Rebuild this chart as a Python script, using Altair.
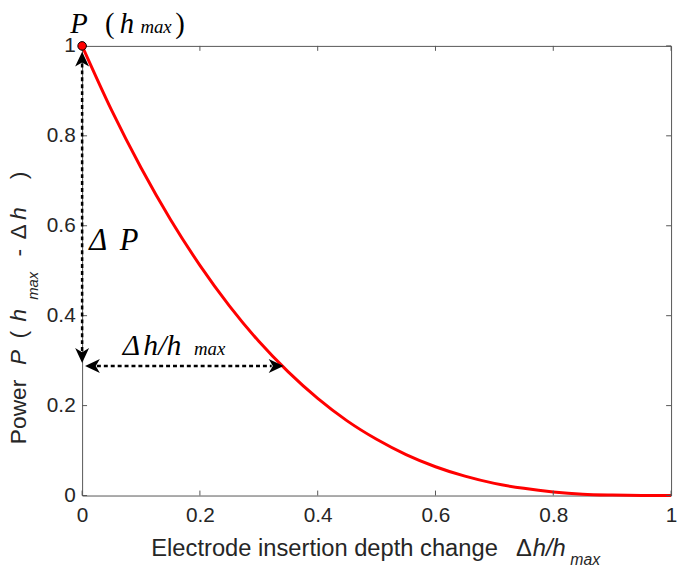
import altair as alt
import pandas as pd

# ---------------- data ----------------
depth_change = [0.0, 0.05, 0.10, 0.15, 0.20, 0.25, 0.30, 0.35, 0.40, 0.45, 0.50,
                0.55, 0.60, 0.65, 0.70, 0.75, 0.80, 0.85, 0.90, 0.95, 1.0]
power = [1.0, 0.857, 0.729, 0.614, 0.512, 0.422, 0.343, 0.275, 0.216, 0.166, 0.125,
         0.091, 0.064, 0.043, 0.027, 0.016, 0.008, 0.003, 0.001, 0.0001, 0.0]

x_ticks = [0, 0.2, 0.4, 0.6, 0.8, 1.0]
y_ticks = [0, 0.2, 0.4, 0.6, 0.8, 1.0]

peak_x = [0.0]
peak_y = [1.0]

# delta-P arrow (vertical) and delta-h arrow (horizontal)
dp_x = 0.0
dp_low = 0.295
dp_high = 0.987
dh_y = 0.288
dh_low = 0.005
dh_high = 0.342

SERIF = "Liberation Serif"
SANS = "Liberation Sans"
AXC = "#262626"

xs = alt.Scale(domain=[0, 1], nice=False, zero=False)
ys = alt.Scale(domain=[0, 1], nice=False, zero=False)

x_axis = alt.Axis(values=x_ticks, format="~g", labelFont=SANS, labelFontSize=21,
                  labelColor=AXC, ticks=False, tickSize=0, domain=False, grid=False,
                  labelPadding=9, title=None, labelFlush=False, labelOverlap=False)
y_axis = alt.Axis(values=y_ticks, format="~g", labelFont=SANS, labelFontSize=21,
                  labelColor=AXC, ticks=False, tickSize=0, domain=False, grid=False,
                  labelPadding=7, title=None, labelOverlap=False)


def X(field="x"):
    return alt.X(f"{field}:Q", scale=xs, axis=x_axis, title=None)


def Y(field="y"):
    return alt.Y(f"{field}:Q", scale=ys, axis=y_axis, title=None)


curve_df = pd.DataFrame({"x": depth_change, "y": power})

curve = alt.Chart(curve_df).mark_line(color="#ff0000", strokeWidth=3,
                                      interpolate="monotone").encode(
    x=X("x"), y=Y("y"))

# inward ticks (MATLAB style)
TLX = 5 / 596
TLY = 5 / 455
TC = "#555"
tick_layers = []
bx = pd.DataFrame({"x": x_ticks, "lo": [0.0] * 6, "hi": [TLY] * 6,
                   "tlo": [1.0] * 6, "thi": [1 - TLY] * 6})
tick_layers.append(alt.Chart(bx).mark_rule(color=TC, strokeWidth=1).encode(
    x=X("x"), y=Y("lo"), y2="hi:Q"))
tick_layers.append(alt.Chart(bx).mark_rule(color=TC, strokeWidth=1).encode(
    x=X("x"), y=Y("tlo"), y2="thi:Q"))
by = pd.DataFrame({"y": y_ticks, "lo": [0.0] * 6, "hi": [TLX] * 6,
                   "rlo": [1.0] * 6, "rhi": [1 - TLX] * 6})
tick_layers.append(alt.Chart(by).mark_rule(color=TC, strokeWidth=1).encode(
    y=Y("y"), x=X("lo"), x2="hi:Q"))
tick_layers.append(alt.Chart(by).mark_rule(color=TC, strokeWidth=1).encode(
    y=Y("y"), x=X("rlo"), x2="rhi:Q"))

# dashed arrow shafts
HEAD = 15  # px arrow head length
vshaft = alt.Chart(pd.DataFrame({"x": [dp_x], "y": [dp_low + HEAD / 455 * 0.8],
                                 "y2": [dp_high - HEAD / 455 * 0.8]})).mark_rule(
    color="black", strokeWidth=2.5, strokeDash=[4, 3]).encode(
    x=X("x"), y=Y("y"), y2="y2:Q")
hshaft = alt.Chart(pd.DataFrame({"y": [dh_y], "x": [dh_low + HEAD / 596 * 0.8],
                                 "x2": [dh_high - HEAD / 596 * 0.8]})).mark_rule(
    color="black", strokeWidth=2.5, strokeDash=[4, 3]).encode(
    y=Y("y"), x=X("x"), x2="x2:Q")

UP = "M0,0L-0.47,1L0,0.72L0.47,1Z"
DOWN = "M0,0L-0.47,-1L0,-0.72L0.47,-1Z"
LEFT = "M0,0L1,-0.47L0.72,0L1,0.47Z"
RIGHT = "M0,0L-1,-0.47L-0.72,0L-1,0.47Z"
HSIZE = (2 * HEAD) ** 2


def head(x, y, shape):
    return alt.Chart(pd.DataFrame({"x": [x], "y": [y]})).mark_point(
        shape=shape, filled=True, color="black", opacity=1, size=HSIZE,
        strokeWidth=0).encode(x=X("x"), y=Y("y"))


heads = [head(dp_x, dp_high, UP), head(dp_x, dp_low, DOWN),
         head(dh_low, dh_y, LEFT), head(dh_high, dh_y, RIGHT)]

peak = alt.Chart(pd.DataFrame({"x": peak_x, "y": peak_y})).mark_point(
    shape="circle", filled=True, fill="#ff0000", stroke="black", strokeWidth=1,
    opacity=1, size=75).encode(x=X("x"), y=Y("y"))


def label(text, x, y, size, italic=False, font=SERIF, angle=0, pixel=False,
          color="black"):
    df = pd.DataFrame({"x": [x], "y": [y], "t": [text]})
    m = alt.Chart(df).mark_text(align="left", baseline="alphabetic", font=font,
                                fontSize=size, angle=angle, color=color,
                                fontStyle="italic" if italic else "normal")
    if pixel:
        return m.encode(x=alt.value(x), y=alt.value(y), text="t:N")
    return m.encode(x=X("x"), y=Y("y"), text="t:N")


TOP = 1.029
labels = [
    # P (h_max)
    label("P", -0.020, TOP, 29, italic=True),
    label("(", 0.039, TOP, 29),
    label("h", 0.064, TOP, 29, italic=True),
    label("max", 0.099, TOP, 19, italic=True),
    label(")", 0.158, TOP, 29),
    # delta P
    label("Δ", 0.012, 0.547, 31, italic=True),
    label("P", 0.064, 0.547, 31, italic=True),
    # delta h / h_max
    label("Δ", 0.069, 0.312, 30, italic=True),
    label("h/h", 0.104, 0.312, 30, italic=True),
    label("max", 0.190, 0.312, 19, italic=True),
    # x-axis title (plot pixel positions)
    label("Electrode insertion depth change", 70, 516, 24, font=SANS, pixel=True, color=AXC),
    label("Δ", 439, 516, 24, font=SANS, pixel=True, color=AXC),
    label("h/h", 456, 516, 24, italic=True, font=SANS, pixel=True, color=AXC),
    label("max", 494, 525, 16, italic=True, font=SANS, pixel=True, color=AXC),
    # y-axis title (rotated)
    label("Power", -57, 403, 23, font=SANS, angle=270, pixel=True, color=AXC),
    label("P", -57, 323, 23, italic=True, font=SANS, angle=270, pixel=True, color=AXC),
    label("(", -57, 296, 23, font=SANS, angle=270, pixel=True, color=AXC),
    label("h", -57, 279, 23, italic=True, font=SANS, angle=270, pixel=True, color=AXC),
    label("max", -45, 257, 15, italic=True, font=SANS, angle=270, pixel=True, color=AXC),
    label("-", -57, 213, 23, font=SANS, angle=270, pixel=True, color=AXC),
    label("Δ", -57, 196, 23, font=SANS, angle=270, pixel=True, color=AXC),
    label("h", -57, 176, 23, italic=True, font=SANS, angle=270, pixel=True, color=AXC),
    label(")", -57, 135, 23, font=SANS, angle=270, pixel=True, color=AXC),
]

chart = alt.layer(curve, *tick_layers, vshaft, hshaft, *heads, peak, *labels).properties(
    width=596, height=455,
    autosize=alt.AutoSizeParams(type="none"),
    padding={"left": 75, "top": 35, "right": 6, "bottom": 71},
    background="white",
).configure_view(stroke="#555", strokeWidth=1)

chart.save("out.html", embed_options={"renderer": "svg", "actions": False})
